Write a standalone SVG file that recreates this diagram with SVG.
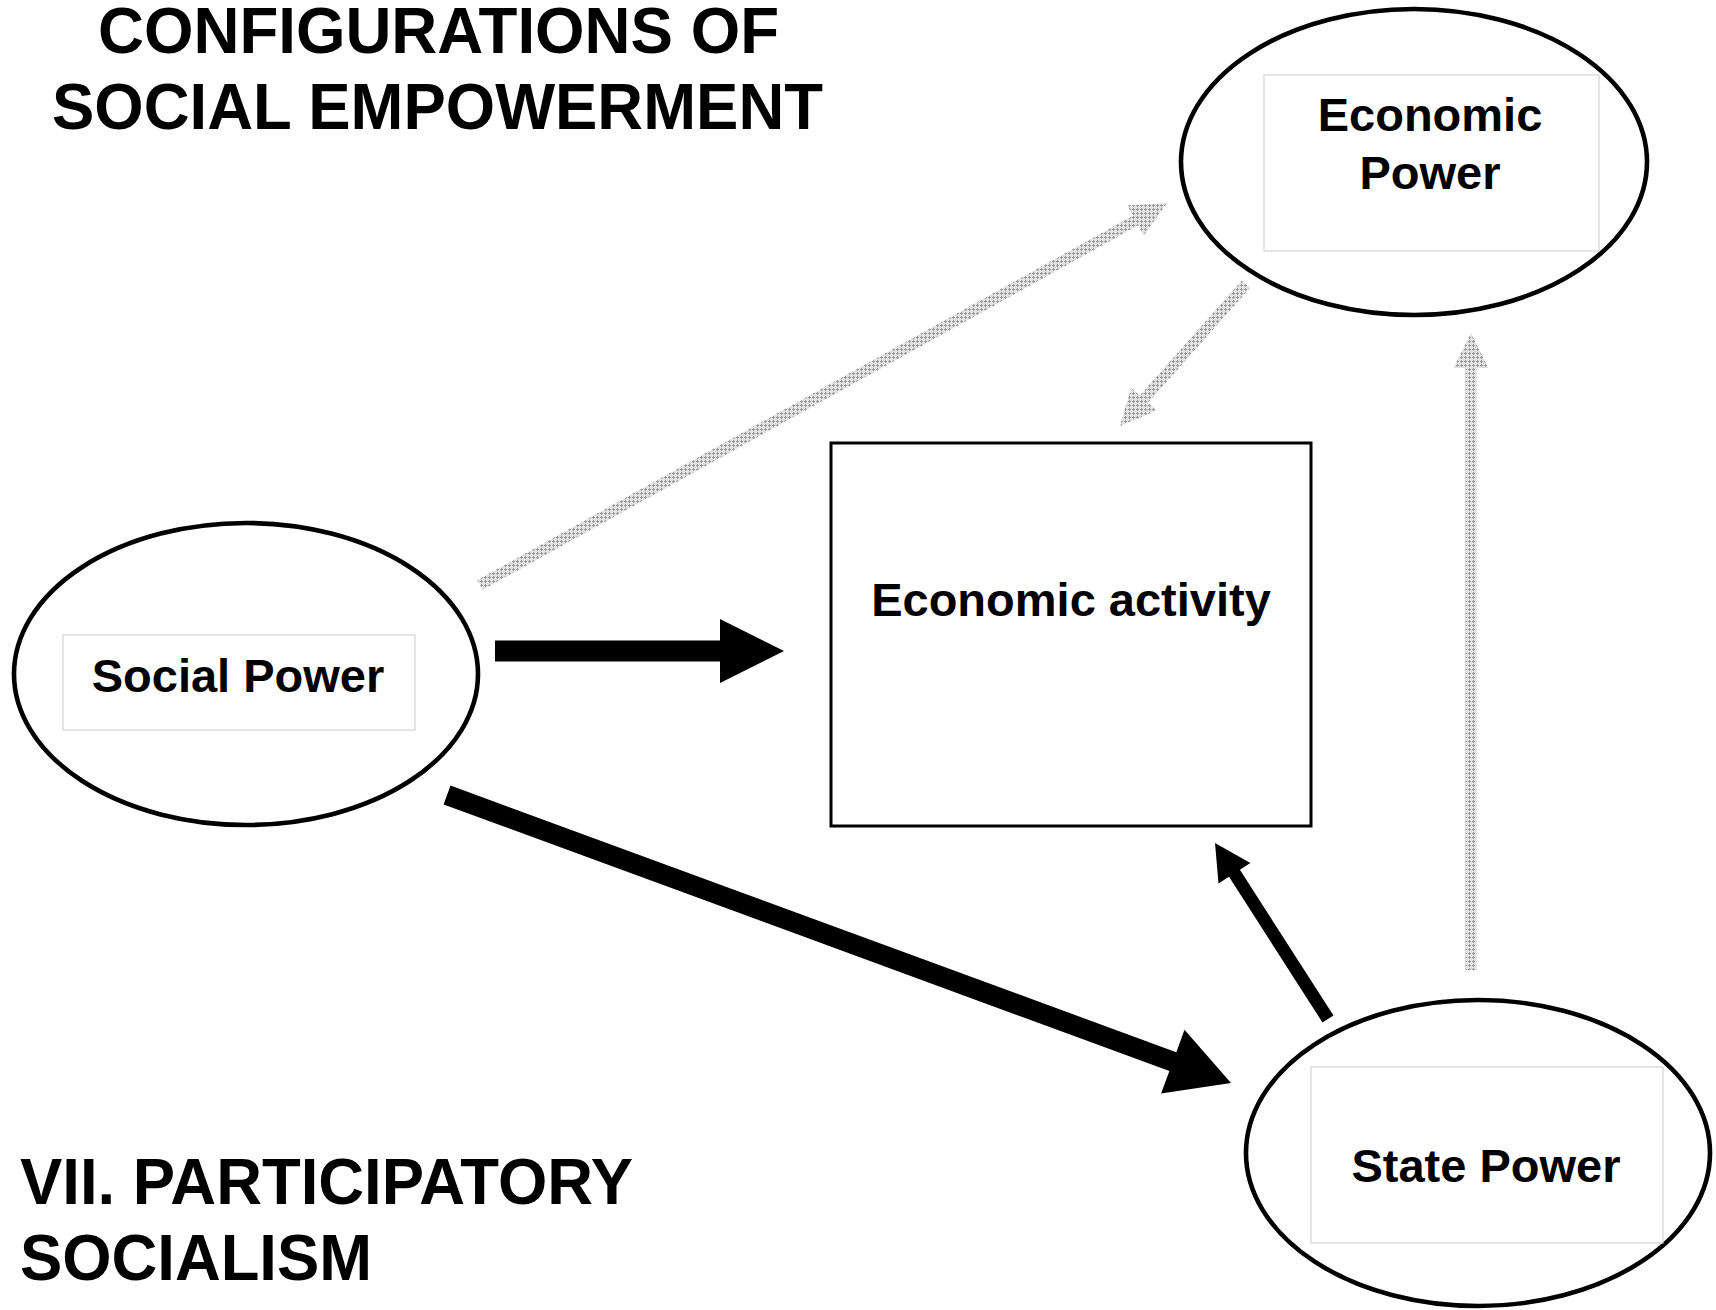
<svg xmlns="http://www.w3.org/2000/svg" width="1716" height="1310" viewBox="0 0 1716 1310">
<defs>
<pattern id="hatch" patternUnits="userSpaceOnUse" width="4" height="4">
<rect width="4" height="4" fill="#e2e2e2"/>
<path d="M1 0h1v1h-1zM0 1h3v1h-3zM1 2h1v1h-1z" fill="#9a9a9a"/>
</pattern>
<style>
.ell{fill:#fff;stroke:#000;stroke-width:4.6}
.inner{fill:none;stroke:#d4d4d4;stroke-width:1.2}
.lbl{font-family:"Liberation Sans",Arial,sans-serif;font-weight:bold;font-size:47px;fill:#000;text-anchor:middle}
.title{font-family:"Liberation Sans",Arial,sans-serif;font-weight:bold;font-size:64px;fill:#000}
.blk{fill:#000;stroke:none}
.gry{fill:url(#hatch);stroke:none}
</style>
</defs>
<rect width="1716" height="1310" fill="#fff"/>
<g id="title">
<text class="title" x="98" y="53" textLength="681" lengthAdjust="spacingAndGlyphs">CONFIGURATIONS OF</text>
<text class="title" x="52" y="129" textLength="771" lengthAdjust="spacingAndGlyphs">SOCIAL EMPOWERMENT</text>
</g>
<g id="subtitle">
<text class="title" x="20" y="1204" textLength="613" lengthAdjust="spacingAndGlyphs">VII. PARTICIPATORY</text>
<text class="title" x="20" y="1280" textLength="352" lengthAdjust="spacingAndGlyphs">SOCIALISM</text>
</g>
<g id="connectors">
<polygon class="gry" points="477.3,580.2 1132.9,215.7 1127.3,205.6 1167,203 1143.8,235.4 1138.2,225.3 482.7,589.8"/>
<polygon class="gry" points="1241.9,280.4 1139.8,395.4 1131.2,387.8 1120,426 1156.6,410.4 1148,402.7 1250.1,287.7"/>
<polygon class="gry" points="1465.5,970 1465.5,368 1453.5,368 1471,333 1488.5,368 1476.5,368 1476.5,970"/>
<polygon class="blk" points="495,640.5 720,640.5 720,619 784,651 720,683 720,661.5 495,661.5"/>
<polygon class="blk" points="450.5,785.6 1176.3,1052.2 1184.5,1029.7 1231,1083 1161.1,1093.5 1169.4,1071 443.6,804.4"/>
<polygon class="blk" points="1333.5,1015.5 1239.9,869.8 1250.4,863 1215,843 1218.5,883.6 1229,876.8 1322.5,1022.5"/>
</g>
<g id="economic-power">
<ellipse class="ell" cx="1414" cy="162" rx="233" ry="153"/>
<rect class="inner" x="1264" y="75" width="335" height="176"/>
<text class="lbl" x="1430" y="131">Economic</text>
<text class="lbl" x="1430" y="189">Power</text>
</g>
<g id="social-power">
<ellipse class="ell" cx="246" cy="674" rx="232" ry="151"/>
<rect class="inner" x="63" y="635" width="352" height="95"/>
<text class="lbl" x="238" y="692">Social Power</text>
</g>
<g id="state-power">
<ellipse class="ell" cx="1478" cy="1153" rx="232" ry="153"/>
<rect class="inner" x="1311" y="1067" width="352" height="176"/>
<text class="lbl" x="1486" y="1182">State Power</text>
</g>
<g id="economic-activity">
<rect x="831" y="443" width="480" height="383" fill="#fff" stroke="#000" stroke-width="3"/>
<text class="lbl" x="1071" y="616">Economic activity</text>
</g>
</svg>
